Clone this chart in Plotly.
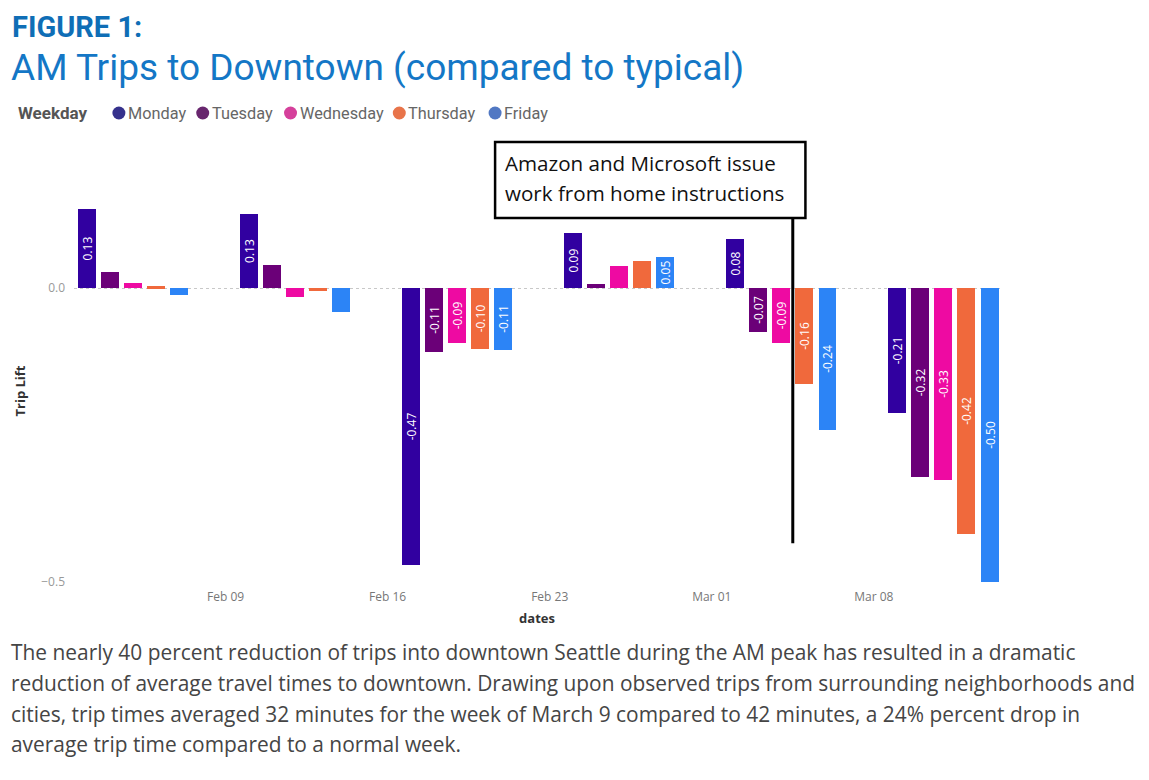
import plotly.graph_objects as go
import pandas as pd

# ---------------- data ----------------
week_starts = ["2020-02-03", "2020-02-10", "2020-02-17", "2020-02-24", "2020-03-02", "2020-03-09"]
weekdays = ["Monday", "Tuesday", "Wednesday", "Thursday", "Friday"]
monday = [0.134, 0.127, -0.471, 0.094, 0.084, -0.212]
tuesday = [0.028, 0.039, -0.108, 0.007, -0.074, -0.322]
wednesday = [0.009, -0.015, -0.093, 0.038, -0.093, -0.327]
thursday = [0.003, -0.005, -0.104, 0.046, -0.163, -0.418]
friday = [-0.011, -0.041, -0.106, 0.053, -0.241, -0.500]
series = [monday, tuesday, wednesday, thursday, friday]
bar_colors = ["#3100A0", "#6B0078", "#EE0AA2", "#F0693C", "#2C84F6"]
legend_colors = ["#35318C", "#68266E", "#D5409B", "#E8744A", "#5178C3"]
event_date = "2020-03-04 12:00"
event_text = ["Amazon and Microsoft issue", "work from home instructions"]
caption = [
    "The nearly 40 percent reduction of trips into downtown Seattle during the AM peak has resulted in a dramatic",
    "reduction of average travel times to downtown. Drawing upon observed trips from surrounding neighborhoods and",
    "cities, trip times averaged 32 minutes for the week of March 9 compared to 42 minutes, a 24% percent drop in",
    "average trip time compared to a normal week.",
]

# ---------------- layout geometry (screen pixels; page body has an 8px margin) ----------------
OFF = 8
W, H = 1149 - 2 * OFF, 780 - 2 * OFF
SL, SR, ST, SB = 72, 1000, 200, 582          # plot area on screen
PL, PR, PT, PB = SL - OFF, SR - OFF, ST - OFF, SB - OFF


def pxx(p):
    return (p - SL) / (SR - SL)


def pxy(p):
    return (SB - p) / (SB - ST)


DAY_MS = 86400000
starts = pd.to_datetime(week_starts)

fig = go.Figure()
for i, (name, vals) in enumerate(zip(weekdays, series)):
    dates = [d + pd.Timedelta(days=i) for d in starts]
    labels = [f"{v:.2f}" if abs(v) >= 0.05 else "" for v in vals]
    fig.add_trace(go.Bar(
        x=dates, y=vals, name=name,
        marker=dict(color=bar_colors[i], line=dict(width=0)),
        width=0.776 * DAY_MS,
        text=labels, textposition="inside", insidetextanchor="middle",
        textangle=-90, constraintext="none",
        textfont=dict(color="white", size=12, family="Open Sans, sans-serif"),
        showlegend=False,
        hovertemplate="%{x|%b %d}: %{y:.2f}<extra>" + name + "</extra>",
    ))

shapes = []
annotations = []

# titles
annotations.append(dict(xref="paper", yref="paper", x=pxx(9), y=pxy(27), xanchor="left", yanchor="middle",
                        text="<b>FIGURE 1:</b>", showarrow=False, borderpad=0,
                        font=dict(family="Roboto, sans-serif", size=29, color="#0F6EB6")))
annotations.append(dict(xref="paper", yref="paper", x=pxx(7), y=pxy(67), xanchor="left", yanchor="middle",
                        text="AM Trips to Downtown (compared to typical)", showarrow=False,
                        font=dict(family="Roboto, sans-serif", size=37, color="#1477C6")))

# manual legend
annotations.append(dict(xref="paper", yref="paper", x=pxx(14), y=pxy(113), xanchor="left", yanchor="middle",
                        text="<b>Weekday</b>", showarrow=False,
                        font=dict(family="Roboto, sans-serif", size=17, color="#555555")))
dot_x = [117, 201, 289, 398, 494]
for name, col, dx in zip(weekdays, legend_colors, dot_x):
    shapes.append(dict(type="circle", xref="paper", yref="paper", xsizemode="pixel", ysizemode="pixel",
                       xanchor=pxx(dx), yanchor=pxy(113), x0=-6.5, x1=6.5, y0=-6.5, y1=6.5,
                       fillcolor=col, line=dict(width=0)))
    annotations.append(dict(xref="paper", yref="paper", x=pxx(dx + 7), y=pxy(113), xanchor="left", yanchor="middle",
                            text=name, showarrow=False,
                            font=dict(family="Roboto, sans-serif", size=16.3, color="#666666")))

# event annotation box + line
shapes.append(dict(type="rect", xref="paper", yref="paper", x0=pxx(494), x1=pxx(805), y0=pxy(218), y1=pxy(142),
                   line=dict(color="black", width=2.5), fillcolor="white", layer="above"))
shapes.append(dict(type="line", xref="x", yref="y", x0=event_date, x1=event_date, y0=-0.434, y1=(288 - 218) / 588,
                   line=dict(color="black", width=3), layer="above"))
for t, yy in zip(event_text, [163, 193]):
    annotations.append(dict(xref="paper", yref="paper", x=pxx(502), y=pxy(yy), xanchor="left", yanchor="middle",
                            text=t, showarrow=False,
                            font=dict(family="Open Sans, sans-serif", size=20.6, color="#111111")))

# caption
for t, yy in zip(caption, [652, 683, 714, 744]):
    annotations.append(dict(xref="paper", yref="paper", x=pxx(7), y=pxy(yy), xanchor="left", yanchor="middle",
                            text=t, showarrow=False,
                            font=dict(family="Open Sans, sans-serif", size=20.9, color="#454545")))

fig.update_layout(
    width=W, height=H,
    margin=dict(l=PL, r=W - PR, t=PT, b=H - PB, pad=0),
    paper_bgcolor="white", plot_bgcolor="white",
    barmode="overlay", bargap=0,
    shapes=shapes, annotations=annotations,
    showlegend=False,
    xaxis=dict(
        type="date",
        range=["2020-02-02 10:48", "2020-03-13 10:50"],
        tick0="2020-02-09", dtick=7 * DAY_MS, tickformat="%b %d",
        showgrid=False, zeroline=False, showline=False, ticks="",
        ticklabelstandoff=6,
        tickfont=dict(family="Open Sans, sans-serif", size=12, color="#777777"),
        title=dict(text="<b>dates</b>", standoff=9,
                   font=dict(family="Open Sans, sans-serif", size=13, color="#333333")),
    ),
    yaxis=dict(
        range=[-0.5, 0.15], tick0=0, dtick=0.5, tickformat=".1f",
        showgrid=True, gridcolor="#C8C8C8", griddash="dot", gridwidth=1,
        zeroline=False, showline=False, ticks="",
        tickfont=dict(family="Open Sans, sans-serif", size=12, color="#999999"),
        ticklabelstandoff=8,
        title=dict(text="<b>Trip Lift</b>", standoff=12,
                   font=dict(family="Open Sans, sans-serif", size=13, color="#333333")),
    ),
    font=dict(family="Open Sans, sans-serif"),
)

fig.write_html("out.html")
